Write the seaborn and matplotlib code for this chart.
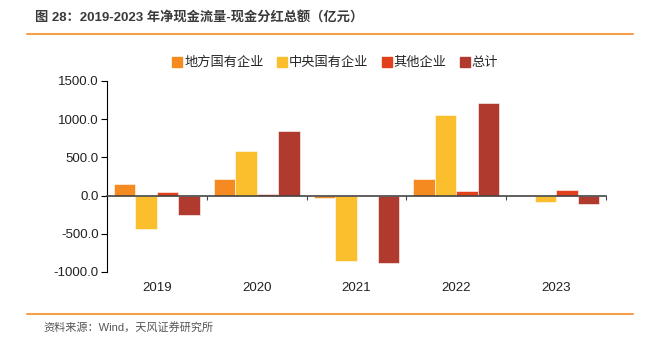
import numpy as np
import pandas as pd
import seaborn as sns
import matplotlib.pyplot as plt
from matplotlib.lines import Line2D
from matplotlib.transforms import blended_transform_factory

years = ["2019", "2020", "2021", "2022", "2023"]
series_names = ["地方国有企业", "中央国有企业", "其他企业", "总计"]
local_soe = [156, 222, -30, 222, -10]
central_soe = [-443, 587, -852, 1056, -78]
others = [45, 25, -5, 61, 78]
total = [-252, 851, -878, 1213, -108]
y_ticks = [-1000, -500, 0, 500, 1000, 1500]

colors = ["#F58A21", "#FBBE2C", "#E2401C", "#B03A2E"]

rows = []
for name, vals in zip(series_names, [local_soe, central_soe, others, total]):
    for y, v in zip(years, vals):
        rows.append({"year": y, "series": name, "value": v})
df = pd.DataFrame(rows)

sns.set_theme(style="white")
plt.rcParams["font.family"] = ["Liberation Sans", "Noto Sans CJK SC", "DejaVu Sans"]

fig = plt.figure(figsize=(6.5, 3.42), dpi=100)
ax = fig.add_axes([107 / 650, 1 - 272 / 342, (606 - 107) / 650, (272 - 81) / 342])

sns.barplot(data=df, x="year", y="value", hue="series", order=years,
            hue_order=series_names, palette=colors, saturation=1, width=0.86, gap=0,
            edgecolor="white", linewidth=0.4, ax=ax, legend=False)

ax.set_xlim(-0.5, len(years) - 0.5)
ax.set_ylim(-1000, 1500)
ax.set_yticks(y_ticks)
ax.set_yticklabels([f"{v:.1f}" for v in y_ticks], fontsize=9.5, color="#222222")
ax.set_xlabel("")
ax.set_ylabel("")

for s in ["top", "right"]:
    ax.spines[s].set_visible(False)
ax.spines["left"].set_color("black")
ax.spines["left"].set_linewidth(0.8)
ax.spines["bottom"].set_position(("data", 0))
ax.spines["bottom"].set_color("#444444")
ax.spines["bottom"].set_linewidth(1.2)
ax.spines["bottom"].set_zorder(5)

ax.set_xticks(np.arange(len(years) + 1) - 0.5)
ax.set_xticklabels([])
ax.tick_params(axis="x", direction="out", length=3, width=0.8, color="#444444", bottom=True)
ax.tick_params(axis="y", direction="out", length=4, width=0.8, color="black", left=True, pad=2)

trans = blended_transform_factory(ax.transData, ax.transAxes)
for i, y in enumerate(years):
    ax.text(i, -0.085, y, transform=trans, ha="center", va="center",
            fontsize=9.5, color="#222222")

handles = [Line2D([0], [0], marker="s", linestyle="", markersize=7,
                  markerfacecolor=c, markeredgecolor=c) for c in colors]
fig.legend(handles, series_names, loc="center", bbox_to_anchor=(335 / 650, 1 - 63 / 342),
           ncol=4, frameon=False, fontsize=9.5, handletextpad=0.1, columnspacing=1.0,
           handlelength=0.8)

fig.text(35 / 650, 1 - 18 / 342, "图 28：2019-2023 年净现金流量-现金分红总额（亿元）",
         fontsize=9.5, fontweight="bold", color="#3a3a3a", ha="left", va="center")
fig.add_artist(Line2D([27 / 650, 633 / 650], [1 - 34 / 342, 1 - 34 / 342],
                      color="#F5A04A", linewidth=1.5))
fig.add_artist(Line2D([27 / 650, 633 / 650], [1 - 314 / 342, 1 - 314 / 342],
                      color="#F5A04A", linewidth=1.5))
fig.text(43 / 650, 1 - 327 / 342, "资料来源：Wind，天风证券研究所",
         fontsize=8, color="#555555", ha="left", va="center")

fig.savefig("out.png", dpi=100)
